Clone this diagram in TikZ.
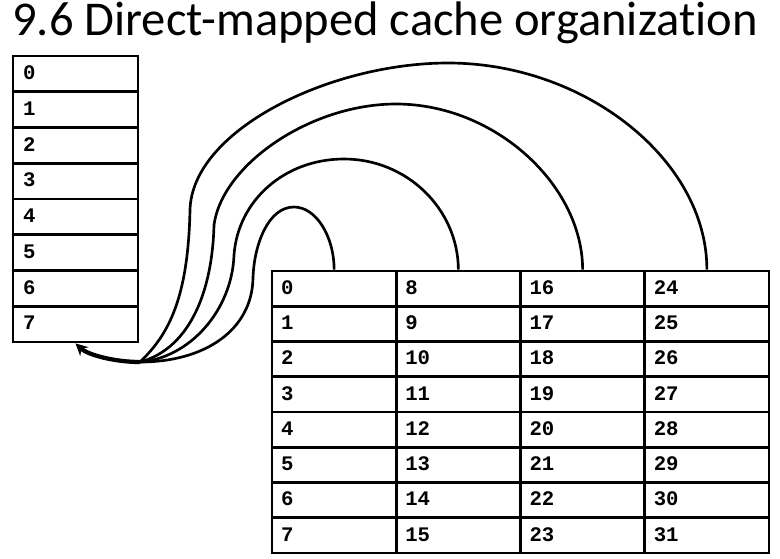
\documentclass[tikz,border=0pt]{standalone}
\usepackage{fontspec}
\setmainfont{Carlito}[Ligatures=NoCommon]
\newfontfamily\cellfont{Liberation Mono}
\usetikzlibrary{arrows.meta}
\begin{document}
\begin{tikzpicture}[x=0.75pt,y=-0.75pt,
  cellbase/.style={draw, line width=2.1pt, inner ysep=0pt, align=left,
    text height=8.6pt, text depth=0pt,
    font=\cellfont\bfseries\fontsize{15.5}{15.5}\selectfont},
  rcell/.style={cellbase, inner xsep=6.8pt, text width=79.6pt, minimum height=26.4pt},
  lcell/.style={cellbase, inner xsep=7.5pt, text width=78.75pt, minimum height=26.8pt},
  link/.style={line width=2pt},
  pointer/.style={line width=3.2pt, -{Stealth[length=9pt,width=9pt]}}]
\fill[white] (0,0) rectangle (780,558);
\useasboundingbox (0,0) rectangle (780,558);
\node[anchor=base west, inner sep=0pt, font=\fontsize{36.4}{36.4}\selectfont] (title) at (12,35) {9.6 Direct-mapped cache organization};
% left table
\foreach \i in {0,...,7} {
  \node[lcell] (L-\i) at (75.5, {56+35.75*(\i+0.5)}) {\i};
}
% right table
\foreach \j in {0,...,3} {
  \foreach \i in {0,...,7} {
    \pgfmathtruncatemacro{\n}{8*\j+\i}
    \node[rcell] (R-\i-\j) at ({272+124.25*(\j+0.5)}, {271+35.25*(\i+0.5)}) {\n};
  }
}
\coordinate (V) at (140,362);
% curves
\draw[link] (R-0-0.north) .. controls (334,236) and (316,207) .. (294,207)
  .. controls (268,207) and (254,245) .. (253,278)
  .. controls (252,330) and (205,362) .. (V);
\draw[link] (R-0-1.north) .. controls (458,209) and (407,159) .. (344,159)
  .. controls (285,159) and (238,200) .. (234,255)
  .. controls (232,310) and (190,358) .. (V);
\draw[link] (R-0-2.north) .. controls (582.5,185) and (495,104) .. (396,104)
  .. controls (310,104) and (222,165) .. (214,225)
  .. controls (212,300) and (185,350) .. (V);
\draw[link] (R-0-3.north) .. controls (707,160) and (585,63) .. (448,63)
  .. controls (330,63) and (192,130) .. (190,210)
  .. controls (188,300) and (168,335) .. (V);
% pointer
\draw[pointer] (V) .. controls (115,362) and (88,355) .. (L-7.south);
\end{tikzpicture}
\end{document}
